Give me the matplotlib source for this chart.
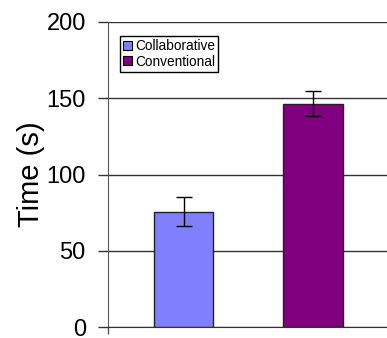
import matplotlib
matplotlib.use("Agg")
import matplotlib.pyplot as plt
from matplotlib.patches import Patch

categories = ["Collaborative", "Conventional"]
means = [75.5, 146.5]
errors = [9.5, 8.0]
colors = ["#8080FF", "#800080"]
yticks = [0, 50, 100, 150, 200]

plt.rcParams["font.family"] = ["Liberation Sans", "DejaVu Sans"]

fig = plt.figure(figsize=(3.87, 3.38), dpi=100)
ax = fig.add_axes([108 / 387, 1 - 327 / 338, 279 / 387, 305 / 338])

x = list(range(len(categories)))
ax.bar(x, means, width=0.463, color=colors, edgecolor="#222222", linewidth=1.0, zorder=3)
ax.errorbar(x, means, yerr=errors, fmt="none", ecolor="black", elinewidth=1.0,
            capsize=6, capthick=1.0, zorder=4)

ax.set_xlim(-0.583, 1.571)
ax.set_ylim(0, 200)
ax.set_yticks(yticks)
# single tick mark at the corner, below the category axis
ax.set_xticks([-0.583])
ax.set_xticklabels([""])
ax.yaxis.grid(True, color="#333333", linewidth=1.0, zorder=0)
ax.set_axisbelow(True)

for side in ("top", "right"):
    ax.spines[side].set_visible(False)
ax.spines["left"].set_color("#555555")
ax.spines["bottom"].set_color("#333333")
ax.tick_params(axis="y", length=7, width=1, color="#333333", labelsize=17, pad=9)
ax.tick_params(axis="x", length=5, width=1, color="#555555")
ax.set_ylabel("Time (s)", fontsize=21, labelpad=1)

handles = [Patch(facecolor=c, edgecolor="black", linewidth=0.8) for c in colors]
leg = ax.legend(handles, categories, loc="upper left", bbox_to_anchor=(0.043, 0.954),
                borderaxespad=0, fontsize=9.8, handlelength=0.65, handleheight=0.65,
                handletextpad=0.25, borderpad=0.22, labelspacing=0.12,
                fancybox=False, framealpha=1, edgecolor="black")
leg.get_frame().set_linewidth(1.0)

fig.savefig("out.png", dpi=100)
